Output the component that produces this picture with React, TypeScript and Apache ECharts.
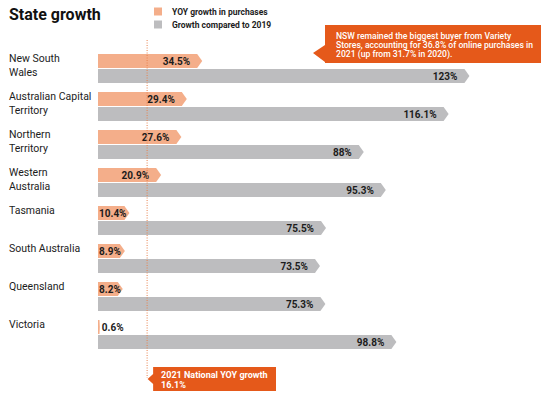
import React, { useEffect, useRef } from "react";
import * as echarts from "echarts";

const categories = [
  "New South\nWales",
  "Australian Capital\nTerritory",
  "Northern\nTerritory",
  "Western\nAustralia",
  "Tasmania",
  "South Australia",
  "Queensland",
  "Victoria",
];
const yoyGrowth = [34.5, 29.4, 27.6, 20.9, 10.4, 8.9, 8.2, 0.6];
const growthVs2019 = [123, 116.1, 88, 95.3, 75.5, 73.5, 75.3, 98.8];
const nationalYoy = [16.1];
const seriesNames = ["YOY growth in purchases", "Growth compared to 2019"];
const nationalLabel = "2021 National YOY growth";
const calloutText =
  "NSW remained the biggest buyer from Variety\nStores, accounting for 36.8% of online purchases in\n2021 (up from 31.7% in 2020).";

const FONT = "Roboto, 'Noto Sans', sans-serif";
const ORANGE_LIGHT = "#F4AE8A";
const GREY = "#BDBDBF";
const ORANGE_DARK = "#E5591A";
const INK = "#1c1c1c";

let measureCtx: CanvasRenderingContext2D | null = null;
function measure(text: string, font: string): number {
  if (!measureCtx) measureCtx = document.createElement("canvas").getContext("2d");
  if (!measureCtx) return text.length * 5.5;
  measureCtx.font = font;
  return measureCtx.measureText(text).width;
}

function barRenderer(kind: "yoy" | "base", color: string) {
  return (params: any, api: any) => {
    const v = api.value(0);
    const c = api.value(1);
    const start = api.coord([0, c]);
    const end = api.coord([v, c]);
    const cy = start[1];
    const top = kind === "yoy" ? cy - 14.5 : cy + 0.5;
    const bottom = top + 14;
    const mid = (top + bottom) / 2;
    const x0 = start[0];
    const tip = end[0];
    const xb = Math.max(x0 + 1.5, tip - 5);
    const label = v + "%";
    const fontSpec = `bold 10px Roboto`;
    const w = measure(label, fontSpec);
    let lx = tip - 12 - w;
    if (lx < x0 + 1) lx = x0 + 1;
    if (v < 2) lx = tip + 2;
    const children: any[] = [
      {
        type: "polygon",
        shape: { points: [[x0, top], [xb, top], [Math.max(tip, xb), mid], [xb, bottom], [x0, bottom]] },
        style: { fill: color },
      },
      {
        type: "text",
        style: {
          text: label,
          x: lx,
          y: mid + 0.5,
          align: "left",
          verticalAlign: "middle",
          fontSize: 10,
          fontWeight: "bold",
          fontFamily: FONT,
          fill: INK,
        },
      },
    ];
    if (kind === "yoy") {
      children.push({
        type: "text",
        style: {
          text: categories[params.dataIndex],
          x: 9,
          y: cy - 17.5,
          align: "left",
          verticalAlign: "top",
          fontSize: 10.5,
          lineHeight: 14,
          fontFamily: FONT,
          fill: INK,
        },
      });
    }
    return { type: "group", children };
  };
}

function nationalRenderer(params: any, api: any) {
  const v = api.value(0);
  const x = api.coord([v, 0])[0] + 0.5;
  const tipX = x + 0.5;
  const bx = x + 6;
  return {
    type: "group",
    children: [
      {
        type: "line",
        shape: { x1: x, y1: 40, x2: x, y2: 378 },
        style: { stroke: "#E8824E", lineWidth: 1, lineDash: [1, 1.5] },
      },
      {
        type: "polygon",
        shape: {
          points: [
            [bx, 367],
            [276, 367],
            [276, 391],
            [bx, 391],
            [bx, 384],
            [tipX, 379],
            [bx, 374],
          ],
        },
        style: { fill: ORANGE_DARK },
      },
      {
        type: "text",
        style: {
          text: nationalLabel + "\n" + v + "%",
          x: bx + 8,
          y: 370.5,
          verticalAlign: "top",
          lineHeight: 9.5,
          fontSize: 9,
          fontWeight: "bold",
          fontFamily: FONT,
          fill: "#ffffff",
        },
      },
    ],
  };
}

export default function App() {
  const ref = useRef<HTMLDivElement>(null);
  useEffect(() => {
    document.body.style.margin = "0";
    if (!ref.current) return;
    const chart = echarts.init(ref.current, null, { renderer: "svg" });
    chart.setOption({
      animation: false,
      backgroundColor: "#ffffff",
      title: {
        text: "State growth",
        left: 9,
        top: 6,
        padding: 0,
        textStyle: { fontSize: 16, fontWeight: "bold", color: "#111", fontFamily: FONT },
      },
      legend: {
        data: seriesNames,
        orient: "vertical",
        left: 154,
        top: 7,
        padding: 0,
        itemWidth: 8,
        itemHeight: 8,
        itemGap: 4,
        icon: "rect",
        selectedMode: false,
        textStyle: {
          fontSize: 8.5,
          fontWeight: "bold",
          color: INK,
          fontFamily: FONT,
          padding: [0, 0, 0, 5],
        },
      },
      grid: { left: 98, top: 49.5, bottom: 45.5, right: 25.2 },
      xAxis: { type: "value", min: 0, max: 140, show: false },
      yAxis: { type: "category", data: categories, inverse: true, show: false },
      graphic: [
        {
          type: "group",
          children: [
            {
              type: "polygon",
              shape: {
                points: [
                  [325, 25],
                  [541, 25],
                  [541, 63],
                  [325, 63],
                  [325, 62],
                  [313, 53],
                  [325, 45],
                ],
              },
              style: { fill: ORANGE_DARK },
            },
            {
              type: "text",
              style: {
                text: calloutText,
                x: 336,
                y: 31,
                verticalAlign: "top",
                lineHeight: 9.2,
                fontSize: 8.6,
                fontWeight: 500,
                fontFamily: FONT,
                fill: "#ffffff",
              },
            },
          ],
        },
      ],
      series: [
        {
          name: seriesNames[0],
          type: "custom",
          itemStyle: { color: ORANGE_LIGHT },
          encode: { x: 0, y: 1 },
          data: yoyGrowth.map((v, i) => [v, i]),
          renderItem: barRenderer("yoy", ORANGE_LIGHT),
          z: 2,
        },
        {
          name: seriesNames[1],
          type: "custom",
          itemStyle: { color: GREY },
          encode: { x: 0, y: 1 },
          data: growthVs2019.map((v, i) => [v, i]),
          renderItem: barRenderer("base", GREY),
          z: 2,
        },
        {
          name: "National",
          type: "custom",
          encode: { x: 0 },
          data: nationalYoy.map((v) => [v, 0]),
          renderItem: nationalRenderer,
          z: 5,
        },
      ],
    });
    return () => chart.dispose();
  }, []);
  return <div ref={ref} style={{ width: 546, height: 399 }} />;
}
